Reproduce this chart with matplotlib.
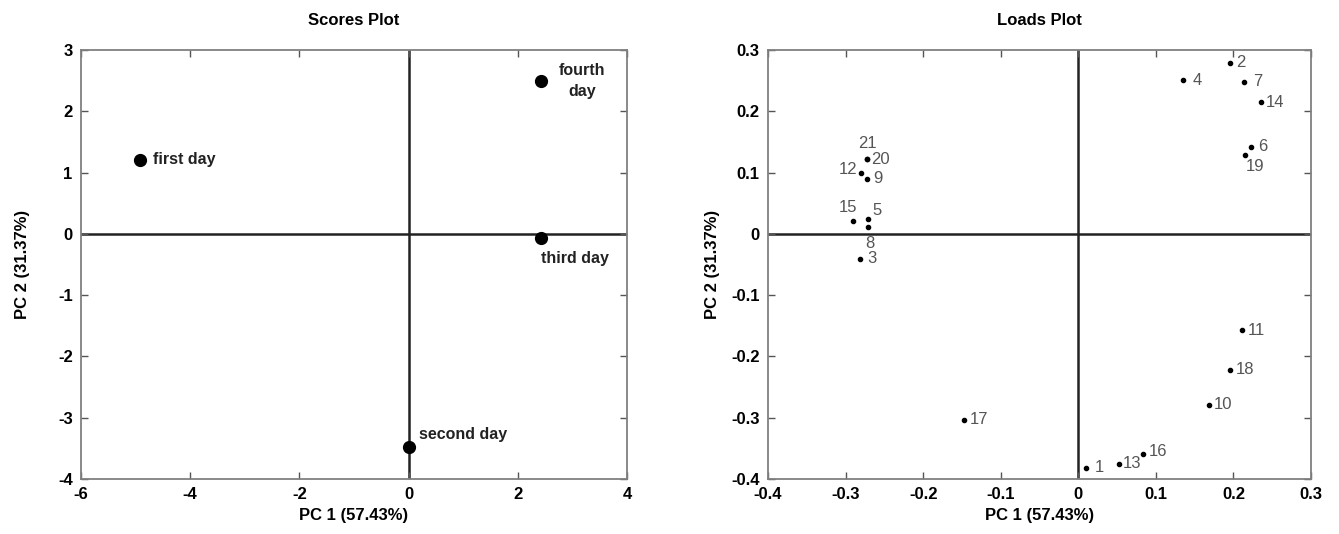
import matplotlib
matplotlib.use('Agg')
import matplotlib.pyplot as plt

plt.rcParams['font.family'] = ['Liberation Sans', 'DejaVu Sans']
plt.rcParams['axes.unicode_minus'] = False

# scores plot data
days = ["first day", "second day", "third day", "fourth\nday"]
pc1_scores = [-4.92, 0.0, 2.42, 2.42]
pc2_scores = [1.21, -3.47, -0.07, 2.50]

# loads plot data
var_ids = ["1", "2", "3", "4", "5", "6", "7", "8", "9", "10", "11",
           "12", "13", "14", "15", "16", "17", "18", "19", "20", "21"]
pc1_loads = [0.010, 0.196, -0.282, 0.135, -0.271, 0.222, 0.214, -0.271, -0.273, 0.168, 0.211,
             -0.280, 0.052, 0.235, -0.290, 0.084, -0.147, 0.195, 0.215, -0.272, -0.272]
pc2_loads = [-0.382, 0.279, -0.041, 0.251, 0.024, 0.142, 0.248, 0.011, 0.090, -0.279, -0.157,
             0.100, -0.375, 0.215, 0.021, -0.359, -0.303, -0.222, 0.129, 0.122, 0.122]

# label placement (pixel offsets, alignment)
score_offsets = {"first day": (13, 0, 'left'), "second day": (10, 12, 'left'),
                 "third day": (0, -20, 'left'), "fourth\nday": (41, 0, 'center')}
load_offsets = {"1": (9, 0, 'left'), "2": (6, 0, 'left'), "3": (8, 0, 'left'),
                "4": (10, 0, 'left'), "5": (4, 9, 'left'), "6": (8, 0, 'left'),
                "7": (9, 0, 'left'), "8": (2, -16, 'center'), "9": (7, 0, 'left'),
                "10": (5, 0, 'left'), "11": (6, 0, 'left'), "12": (-4, 3, 'right'),
                "13": (4, 0, 'left'), "14": (5, 0, 'left'), "15": (-5, 13, 'center'),
                "16": (5, 2, 'left'), "17": (5, 0, 'left'), "18": (6, 0, 'left'),
                "19": (10, -12, 'center'), "20": (4, 0, 'left'), "21": (0, 16, 'center')}

fig = plt.figure(figsize=(13.39, 5.34), dpi=100)
ax1 = fig.add_axes([0.0605, 0.103, 0.4078, 0.8034])
ax2 = fig.add_axes([0.5736, 0.103, 0.4055, 0.8034])


def style_axes(ax, ypad):
    for s in ax.spines.values():
        s.set_color('#808080')
        s.set_linewidth(1.3)
    ax.tick_params(direction='in', top=True, right=True, length=5, width=1,
                   color='#555555', labelsize=12, pad=6)
    for lab in ax.get_xticklabels() + ax.get_yticklabels():
        lab.set_fontweight('bold')
    ax.axhline(0, color='#222222', lw=1.8, zorder=1)
    ax.axvline(0, color='#222222', lw=1.8, zorder=1)
    ax.set_xlabel("PC 1 (57.43%)", fontsize=12, fontweight='bold', labelpad=4)
    ax.set_ylabel("PC 2 (31.37%)", fontsize=12, fontweight='bold', labelpad=ypad)


# scores
ax1.plot(pc1_scores, pc2_scores, 'o', color='black', ms=8.5, zorder=3)
for name, x, y in zip(days, pc1_scores, pc2_scores):
    dx, dy, ha = score_offsets[name]
    ax1.annotate(name, (x, y), xytext=(dx, dy), textcoords='offset pixels',
                 ha=ha, va='center', fontsize=11.5, fontweight='bold', color='#222222',
                 linespacing=1.5)
ax1.set_xlim(-6, 4)
ax1.set_ylim(-4, 3)
ax1.set_xticks(range(-6, 5, 2))
ax1.set_yticks(range(-4, 4))
ax1.set_title("Scores Plot", fontsize=12, fontweight='bold', pad=18)
style_axes(ax1, 20)

# loads
ax2.plot(pc1_loads, pc2_loads, 'o', color='black', ms=3, zorder=3)
for name, x, y in zip(var_ids, pc1_loads, pc2_loads):
    dx, dy, ha = load_offsets[name]
    ax2.annotate(name, (x, y), xytext=(dx, dy), textcoords='offset pixels',
                 ha=ha, va='center', fontsize=12, color='#555555')
ax2.set_xlim(-0.4, 0.3)
ax2.set_ylim(-0.4, 0.3)
ticks = [-0.4, -0.3, -0.2, -0.1, 0, 0.1, 0.2, 0.3]
tick_labels = ["-0.4", "-0.3", "-0.2", "-0.1", "0", "0.1", "0.2", "0.3"]
ax2.set_xticks(ticks)
ax2.set_yticks(ticks)
ax2.set_xticklabels(tick_labels)
ax2.set_yticklabels(tick_labels)
ax2.set_title("Loads Plot", fontsize=12, fontweight='bold', pad=18)
style_axes(ax2, 8)

plt.savefig("out.png", dpi=100)
